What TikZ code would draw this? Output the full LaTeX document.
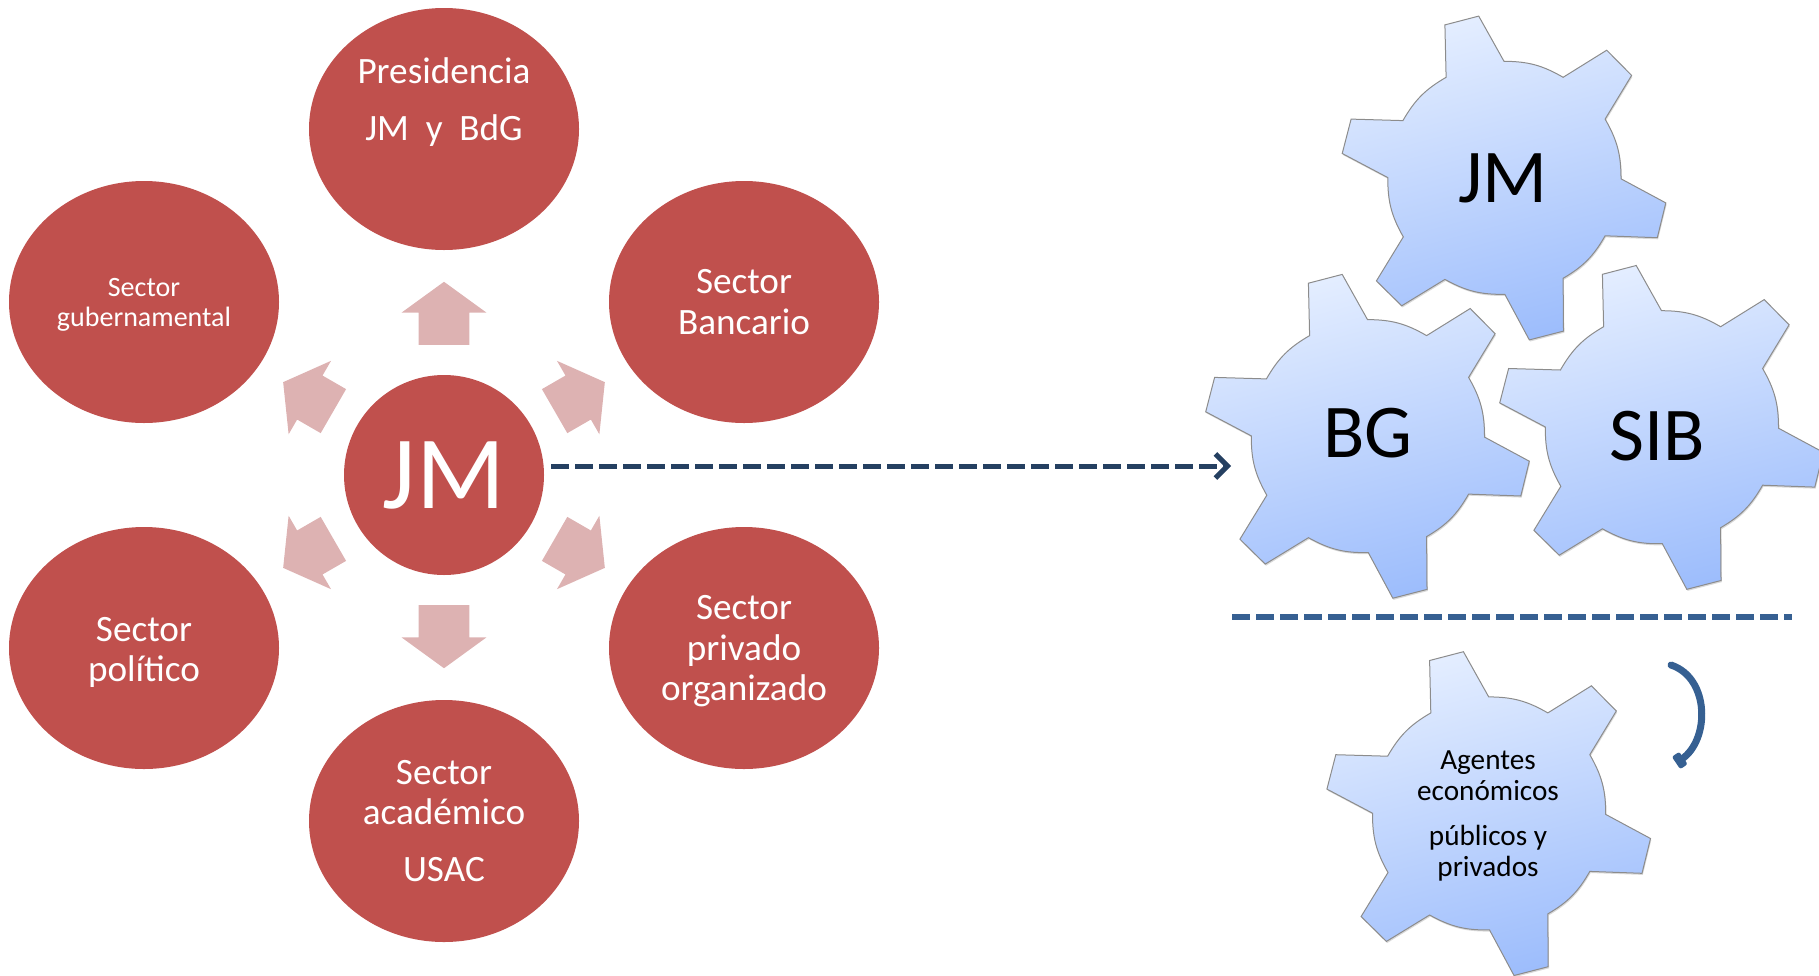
\documentclass[tikz,border=0pt]{standalone}
\usepackage{fontspec}
\setmainfont{Carlito}
\usetikzlibrary{positioning, arrows.meta, shapes.geometric, shapes.arrows, shadows}
\definecolor{sectorred}{HTML}{C0504D}
\definecolor{arrowpink}{HTML}{DDB2B2}
\definecolor{navydash}{HTML}{254061}
\definecolor{bluedash}{HTML}{366092}
\definecolor{gearlight}{HTML}{E3EDFF}
\definecolor{geardark}{HTML}{9DBDFC}
\tikzstyle{sector}=[ellipse, fill=sectorred, text=white, align=center, inner sep=0pt, minimum width=135pt, minimum height=121pt, font=\fontsize{18.6}{20.3}\selectfont]
\tikzstyle{blockarrow}=[single arrow, fill=arrowpink, inner xsep=0pt, inner ysep=12.5pt, outer sep=0pt, minimum height=29pt, single arrow head extend=8.5pt, single arrow tip angle=108]
\tikzstyle{gearfill}=[draw=black!45, line width=0.5pt, top color=gearlight, bottom color=geardark, shading angle=15, drop shadow={shadow xshift=0.4pt, shadow yshift=-0.8pt, opacity=.3}]
\tikzstyle{gearlabel}=[inner sep=0pt, align=center, font=\fontsize{38}{40}\selectfont]
% one cog wheel, radius about 117 units
\newcommand{\cogwheel}[1]{
    \path[gearfill, shift={(#1)}]
        (-59.1,-153.1) -- (-25.3,-161.9) -- (0,-116.7) to[bend left=15] (59.1,-100.7)
        -- (102.7,-127.8) -- (127.6,-102.6) -- (101.1,-58.9) to[bend left=15] (117,0.8)
        -- (161.8,24.9) -- (153.3,59.7) -- (101.1,57.8) to[bend left=15] (59.1,100.3)
        -- (59.5,153.1) -- (25.3,161.9) -- (0.8,116.3) to[bend left=15] (-59.1,101.4)
        -- (-102.3,127.8) -- (-127.6,102.9) -- (-100.7,58.9) to[bend left=15] (-116.2,-0.4)
        -- (-161.8,-24.5) -- (-152.9,-58.9) -- (-101.1,-57.4) to[bend left=15] (-57.9,-100.7)
        -- cycle;
}
\begin{document}
\begin{tikzpicture}[x=0.5pt,y=-0.5pt]
    \useasboundingbox (0,0) rectangle (1819,975);

    \node [sector, font=\fontsize{52}{56}\selectfont, minimum width=100pt, minimum height=100pt] (jm) at (444,475) {JM};
    \node [sector, above of=jm, node distance=173pt] (pres) {Presidencia\\[8pt]JM\ \ y\ \ BdG\\[3.5pt]\strut};
    \node [sector, below of=jm, node distance=173pt] (acad) {Sector\\acad\'emico\\[8pt]USAC};
    \node [sector, above of=jm, node distance=86.5pt, xshift=150pt] (banc) {Sector\\Bancario};
    \node [sector, below of=jm, node distance=86.5pt, xshift=150pt] (priv) {\rule{0pt}{15.5pt}Sector\\privado\\organizado};
    \node [sector, above of=jm, node distance=86.5pt, xshift=-150pt, font=\fontsize{14}{15}\selectfont] (gob) {\rule{0pt}{12pt}Sector\\gubernamental};
    \node [sector, below of=jm, node distance=86.5pt, xshift=-150pt] (pol) {\rule{0pt}{16.5pt}Sector\\pol\'itico};

    \node [blockarrow, rotate=90, xshift=76.25pt, minimum height=31.5pt] (arrpres) at (jm) {};
    \node [blockarrow, rotate=30, xshift=73.75pt] (arrbanc) at (jm) {};
    \node [blockarrow, rotate=-30, xshift=73.75pt] (arrpriv) at (jm) {};
    \node [blockarrow, rotate=-90, xshift=76.25pt, minimum height=31.5pt] (arracad) at (jm) {};
    \node [blockarrow, rotate=-150, xshift=73.75pt] (arrpol) at (jm) {};
    \node [blockarrow, rotate=150, xshift=73.75pt] (arrgob) at (jm) {};

    \cogwheel{1504,178}
    \cogwheel{1367.5,436.3}
    \cogwheel{1661.5,427.4}
    \cogwheel{1488.7,813.6}
    \node [gearlabel] (cogjm) at (1503,178) {JM};
    \node [gearlabel] (cogbg) at (1368,433) {BG};
    \node [gearlabel] (cogsib) at (1657,436) {SIB};
    \node [gearlabel, font=\fontsize{14.6}{15.3}\selectfont] (cogage) at (1488,816) {Agentes\\econ\'omicos\\[7.5pt]p\'ublicos y\\privados};

    \coordinate (dashend) at (1231,466);
    \coordinate (ruleleft) at (1232,617);
    \coordinate (ruleright) at (1792,617);
    \coordinate (turnup) at (1671,665);
    \coordinate (turndown) at (1676,763);
    \draw [navydash, line width=2.5pt, dash pattern=on 9pt off 3pt, shorten <=3.5pt, -{Straight Barb[length=6pt,width=12pt]}] (jm.east |- dashend) -- (dashend);
    \draw [bluedash, line width=2.75pt, dash pattern=on 9pt off 3pt] (ruleleft) -- (ruleright);
    \draw [bluedash, line width=3.5pt, line cap=round, -{Square[length=4.5pt,width=7.5pt,round]}] (turnup) .. controls (1710,678) and (1710,740) .. (turndown);
\end{tikzpicture}
\end{document}
